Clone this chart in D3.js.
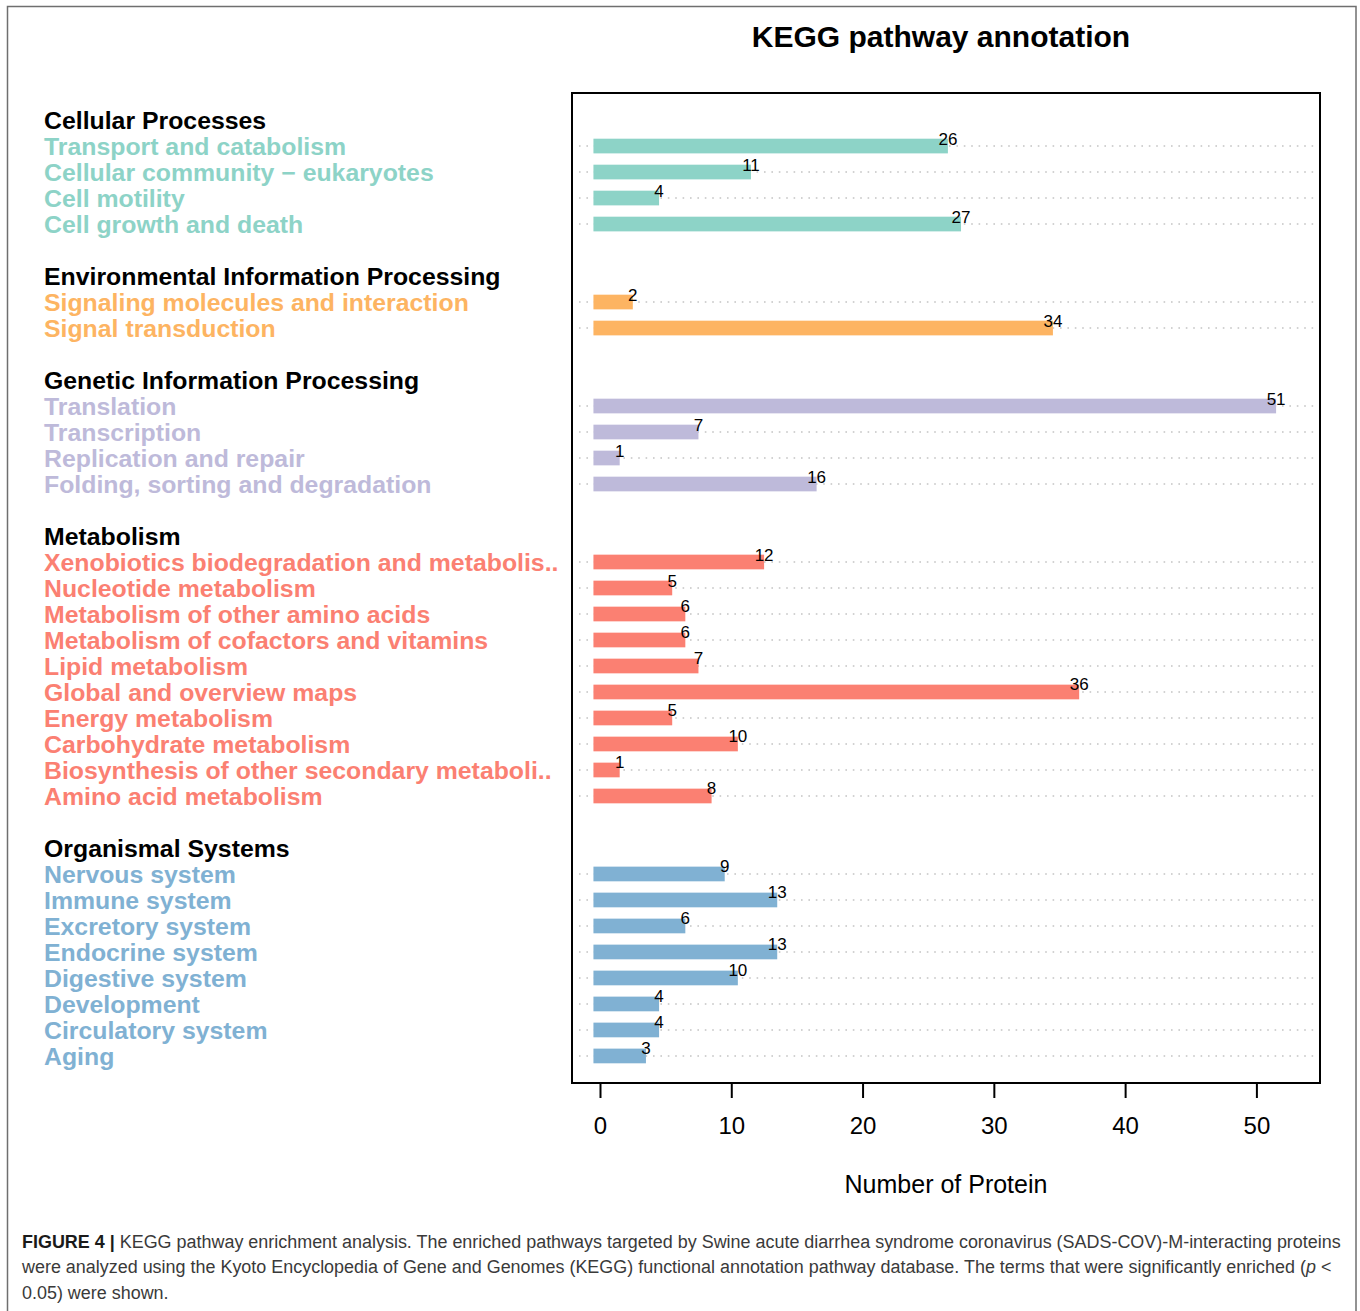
<!DOCTYPE html>
<html>
<head>
<meta charset="utf-8">
<script src="https://cdn.jsdelivr.net/npm/d3@7"></script>
<style>
  html, body { margin: 0; padding: 0; background: #fff; }
  svg { display: block; font-family: "Liberation Sans", Arial, Helvetica, sans-serif; }
</style>
</head>
<body>
<svg id="chart" width="1360" height="1311"></svg>
<script>
// KEGG level-1 categories, their colours, and the level-2 pathways with protein counts
const groups = [
  "Cellular Processes",
  "Environmental Information Processing",
  "Genetic Information Processing",
  "Metabolism",
  "Organismal Systems"
];
const groupColors = ["#8DD3C7", "#FDB462", "#BEBADA", "#FB8072", "#80B1D3"];

const cellularTerms = ["Transport and catabolism", "Cellular community \u2212 eukaryotes", "Cell motility", "Cell growth and death"];
const cellularCounts = [26, 11, 4, 27];

const environmentalTerms = ["Signaling molecules and interaction", "Signal transduction"];
const environmentalCounts = [2, 34];

const geneticTerms = ["Translation", "Transcription", "Replication and repair", "Folding, sorting and degradation"];
const geneticCounts = [51, 7, 1, 16];

const metabolismTerms = [
  "Xenobiotics biodegradation and metabolis..", "Nucleotide metabolism", "Metabolism of other amino acids",
  "Metabolism of cofactors and vitamins", "Lipid metabolism", "Global and overview maps",
  "Energy metabolism", "Carbohydrate metabolism", "Biosynthesis of other secondary metaboli..",
  "Amino acid metabolism"
];
const metabolismCounts = [12, 5, 6, 6, 7, 36, 5, 10, 1, 8];

const organismalTerms = ["Nervous system", "Immune system", "Excretory system", "Endocrine system",
  "Digestive system", "Development", "Circulatory system", "Aging"];
const organismalCounts = [9, 13, 6, 13, 10, 4, 4, 3];

const xTicks = [0, 10, 20, 30, 40, 50];

const termLists = [cellularTerms, environmentalTerms, geneticTerms, metabolismTerms, organismalTerms];
const countLists = [cellularCounts, environmentalCounts, geneticCounts, metabolismCounts, organismalCounts];

// Flatten into row slots: a header row per category, its pathways, then a spacer row
const rows = [];
groups.forEach((g, gi) => {
  rows.push({ type: "header", label: g, key: "h" + gi });
  termLists[gi].forEach((t, ti) => {
    rows.push({ type: "item", label: t, value: countLists[gi][ti], color: groupColors[gi], key: "i" + gi + "_" + ti });
  });
  if (gi < groups.length - 1) rows.push({ type: "blank", key: "b" + gi });
});

const svg = d3.select("#chart");

// figure frame
svg.append("rect")
  .attr("x", 7.5).attr("y", 6.5).attr("width", 1348.5).attr("height", 1320)
  .attr("fill", "none").attr("stroke", "#6f6f6f").attr("stroke-width", 1.5);

// plot panel
const box = { left: 572, top: 93, right: 1320, bottom: 1083 };

const x = d3.scaleLinear().domain([0, 50]).range([600, 1256.4]);
const y = d3.scalePoint().domain(rows.map(r => r.key)).range([box.top, box.bottom]).padding(1.04);
const barH = y.step() * 0.565;
const half = (x(1) - x(0)) / 2;   // bars span half a unit either side of the value

const items = rows.filter(r => r.type === "item");

// dotted guide lines
svg.append("g").selectAll("line").data(items).join("line")
  .attr("x1", 579).attr("x2", 1314)
  .attr("y1", d => y(d.key)).attr("y2", d => y(d.key))
  .attr("stroke", "#c4c4c4").attr("stroke-width", 1.6)
  .attr("stroke-dasharray", "1.6 5.8");

// bars
svg.append("g").selectAll("rect").data(items).join("rect")
  .attr("x", x(0) - half)
  .attr("y", d => y(d.key) - barH / 2)
  .attr("width", d => x(d.value) - x(0) + 2 * half)
  .attr("height", barH)
  .attr("fill", d => d.color);

// value labels at the end of each bar
svg.append("g").selectAll("text").data(items).join("text")
  .attr("x", d => x(d.value) + half)
  .attr("y", d => y(d.key) - 1.5)
  .attr("text-anchor", "middle")
  .attr("font-size", 17)
  .attr("fill", "#000")
  .text(d => d.value);

// panel border
svg.append("rect")
  .attr("x", box.left).attr("y", box.top)
  .attr("width", box.right - box.left).attr("height", box.bottom - box.top)
  .attr("fill", "none").attr("stroke", "#000").attr("stroke-width", 2);

// x axis
const xAxis = svg.append("g")
  .attr("transform", `translate(0,${box.bottom})`)
  .call(d3.axisBottom(x).tickValues(xTicks).tickSize(15).tickPadding(19).tickFormat(d3.format("d")));
xAxis.select(".domain").remove();
xAxis.selectAll(".tick line").attr("stroke", "#000").attr("stroke-width", 2);
xAxis.selectAll(".tick text").attr("font-size", 24).attr("fill", "#000")
  .attr("font-family", "'Liberation Sans', Arial, sans-serif");

svg.append("text")
  .attr("x", 946).attr("y", 1192.5)
  .attr("text-anchor", "middle").attr("font-size", 25).attr("fill", "#000")
  .text("Number of Protein");

// chart title
svg.append("text")
  .attr("x", 941).attr("y", 46.5)
  .attr("text-anchor", "middle").attr("font-size", 30).attr("font-weight", "bold").attr("fill", "#000")
  .text("KEGG pathway annotation");

// category and pathway names on the left (slightly widened bold face)
svg.append("g")
  .attr("transform", "translate(44,0) scale(1.035,1)")
  .selectAll("text").data(rows.filter(r => r.type !== "blank")).join("text")
  .attr("x", 0)
  .attr("y", d => y(d.key) + 9)
  .attr("font-size", 24)
  .attr("font-weight", "bold")
  .attr("fill", d => d.type === "header" ? "#000" : d.color)
  .text(d => d.label);

// figure caption
const captionLines = [
  [
    { t: "FIGURE 4 | ", bold: true },
    { t: "KEGG pathway enrichment analysis. The enriched pathways targeted by Swine acute diarrhea syndrome coronavirus (SADS-COV)-M-interacting proteins" }
  ],
  [
    { t: "were analyzed using the Kyoto Encyclopedia of Gene and Genomes (KEGG) functional annotation pathway database. The terms that were significantly enriched (" },
    { t: "p", italic: true },
    { t: " <" }
  ],
  [{ t: "0.05) were shown." }]
];
const capG = svg.append("g");
const capTexts = captionLines.map((parts, i) => {
  const t = capG.append("text")
    .attr("x", 22).attr("y", 1248 + i * 25.3)
    .attr("font-size", 19).attr("fill", "#3a3a3a")
    .attr("font-family", "'Liberation Sans', Arial, sans-serif");
  parts.forEach(p => {
    t.append("tspan")
      .attr("font-weight", p.bold ? "bold" : null)
      .attr("fill", p.bold ? "#1a1a1a" : null)
      .attr("font-style", p.italic ? "italic" : null)
      .text(p.t);
  });
  return t;
});
// size the caption so the first line spans the frame width
const firstWidth = capTexts[0].node().getComputedTextLength();
const capSize = 19 * 1319 / firstWidth;
capTexts.forEach(t => t.attr("font-size", capSize));
</script>
</body>
</html>
